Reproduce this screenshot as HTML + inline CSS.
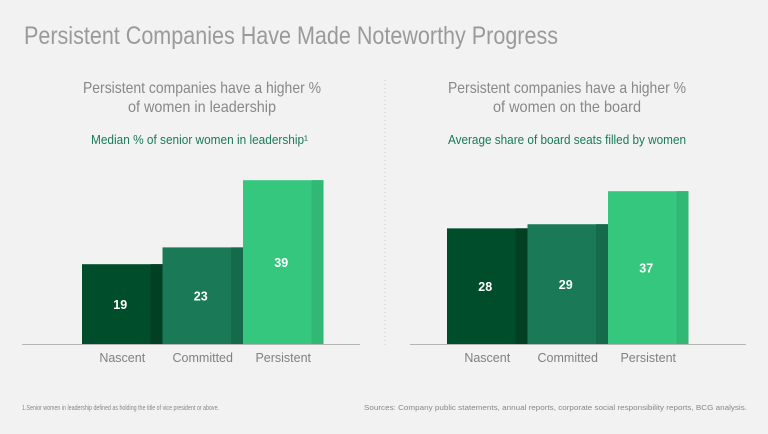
<!DOCTYPE html>
<html><head><meta charset="utf-8"><style>
html,body{margin:0;padding:0;background:#f2f2f2;}
svg{display:block;font-family:"Liberation Sans",sans-serif;}
</style></head><body>
<svg id="chart" width="768" height="434" viewBox="0 0 768 434">
<rect width="768" height="434" fill="#f2f2f2"/>
<text x="24" y="44" font-size="25" fill="#9a9a9a" textLength="534" lengthAdjust="spacingAndGlyphs">Persistent Companies Have Made Noteworthy Progress</text>
<text x="202" y="93" text-anchor="middle" font-size="16" fill="#888" textLength="238" lengthAdjust="spacingAndGlyphs">Persistent companies have a higher %</text>
<text x="202" y="112" text-anchor="middle" font-size="16" fill="#888" textLength="148" lengthAdjust="spacingAndGlyphs">of women in leadership</text>
<text x="567" y="93" text-anchor="middle" font-size="16" fill="#888" textLength="238" lengthAdjust="spacingAndGlyphs">Persistent companies have a higher %</text>
<text x="567" y="112" text-anchor="middle" font-size="16" fill="#888" textLength="148" lengthAdjust="spacingAndGlyphs">of women on the board</text>
<text x="91" y="144" font-size="12.5" fill="#197a56" textLength="217" lengthAdjust="spacingAndGlyphs">Median % of senior women in leadership¹</text>
<text x="448" y="144" font-size="12.5" fill="#197a56" textLength="238" lengthAdjust="spacingAndGlyphs">Average share of board seats filled by women</text>
<line x1="385" y1="80" x2="385" y2="345" stroke="#c8c8c8" stroke-dasharray="1,3"/>
<g id="plots"></g>
<text x="22" y="410" font-size="7.5" fill="#888" textLength="197" lengthAdjust="spacingAndGlyphs">1.Senior women in leadership defined as holding the title of vice president or above.</text>
<text x="364" y="410" font-size="7.5" fill="#888" textLength="383" lengthAdjust="spacingAndGlyphs">Sources: Company public statements, annual reports, corporate social responsibility reports, BCG analysis.</text>
</svg>
<script>
const categories = ["Nascent", "Committed", "Persistent"];
const leadershipValues = [19, 23, 39];
const boardValues = [28, 29, 37];

const NS = "http://www.w3.org/2000/svg";
const fills = ["#004d2b", "#1a7a58", "#36c77f"];
const strips = ["#033f22", "#166a4c", "#31b874"];
const baseY = 344;
function panel(values, x0, scale, lineX1, lineX2, prefix) {
  const g = document.getElementById("plots");
  const barW = 80.5, stripW = 12;
  const xOf = i => x0 + i * barW;
  const yOf = v => baseY - v * scale;
  values.forEach((v, i) => {
    const x = xOf(i), y = yOf(v), h = baseY - y;
    const r = document.createElementNS(NS, "rect");
    r.setAttribute("x", x); r.setAttribute("y", y); r.setAttribute("width", barW); r.setAttribute("height", h); r.setAttribute("fill", fills[i]);
    
    
    g.appendChild(r);
    const s = document.createElementNS(NS, "rect");
    s.setAttribute("x", x + barW - stripW); s.setAttribute("y", y); s.setAttribute("width", stripW); s.setAttribute("height", h); s.setAttribute("fill", strips[i]);
    
    
    g.appendChild(s);
    const t = document.createElementNS(NS, "text");
    t.setAttribute("x", x + (barW - stripW) / 2 + 4); t.setAttribute("y", y + h / 2 + 5);
    t.setAttribute("text-anchor", "middle"); t.setAttribute("font-size", "12.5"); t.setAttribute("font-weight", "bold"); t.setAttribute("fill", "#fff");
    t.textContent = v;
    
    
    g.appendChild(t);
    const c = document.createElementNS(NS, "text");
    c.setAttribute("x", x + barW / 2); c.setAttribute("y", 362);
    c.setAttribute("text-anchor", "middle"); c.setAttribute("font-size", "12.5"); c.setAttribute("fill", "#808080");
    c.textContent = categories[i];
    
    
    g.appendChild(c);
  });
  const l = document.createElementNS(NS, "line");
  l.setAttribute("x1", lineX1); l.setAttribute("x2", lineX2); l.setAttribute("y1", baseY + 0.5); l.setAttribute("y2", baseY + 0.5);
  l.setAttribute("stroke", "#b5b5b5"); l.setAttribute("stroke-width", "1");
  
  
  g.appendChild(l);
}
panel(leadershipValues, 82, 4.2, 22, 360, "leadership");
panel(boardValues, 447, 4.13, 410, 746, "board");
</script>
</body></html>
